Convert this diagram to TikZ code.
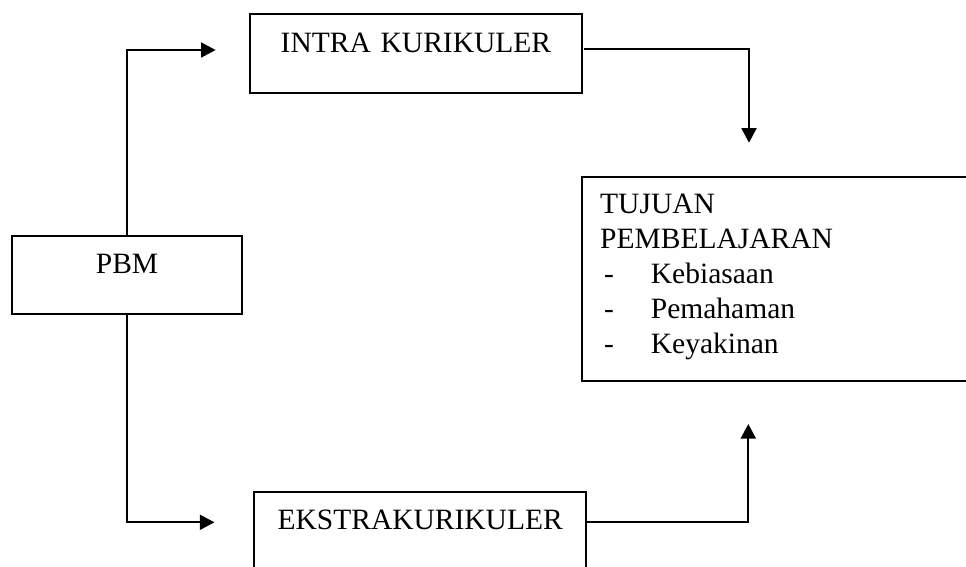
\documentclass[tikz,border=0pt]{standalone}
\usepackage{fontspec}
\setmainfont{Liberation Serif}
\usetikzlibrary{arrows.meta,calc}
\begin{document}
\begin{tikzpicture}[x=1pt,y=-1pt,
  every node/.style={font=\fontsize{29.5}{35}\selectfont},
  box/.style={draw, line width=1.8pt, inner sep=0pt, align=center},
  conn/.style={line width=1.8pt, -{Triangle[length=14.5pt,width=15pt]}}]
\useasboundingbox (0,0) rectangle (966,566);
% boxes
\node[box, anchor=north west, text width=332.6pt, text height=38.4pt, text depth=40.3pt]
  (intra) at (248.7,13.3) {INTRA KURIKULER};
\node[box, anchor=north west, text width=230.3pt, text height=38pt, text depth=40.3pt]
  (pbm) at (11,235) {PBM};
\node[box, anchor=north west, text width=332pt, text height=37.6pt, text depth=45pt]
  (ekstra) at (253.3,490.7) {EKSTRAKURIKULER};
\node[box, anchor=north west, minimum width=420pt, minimum height=204pt]
  (tujuan) at (580.7,176) {};
\node[anchor=base west, inner sep=0pt] (tujuantext) at (600,213.3)
  {\begin{tabular}[t]{@{}l@{}}
   TUJUAN\\
   PEMBELAJARAN\\
   \hspace*{4pt}\makebox[46.7pt][l]{-}Kebiasaan\\
   \hspace*{4pt}\makebox[46.7pt][l]{-}Pemahaman\\
   \hspace*{4pt}\makebox[46.7pt][l]{-}Keyakinan
   \end{tabular}};
% connector ends
\coordinate (a1) at (215.6,50);
\coordinate (a2) at (214.4,522.3);
\coordinate (s3) at (584,49.3);
\coordinate (e3) at (749,142.7);
\coordinate (e4) at (748.3,424);
% connectors
\draw[conn] (pbm.north) |- (a1);
\draw[conn] (pbm.south) |- (a2);
\draw[conn] (s3) -| (e3);
\draw[conn] (ekstra.east |- a2) -| (e4);
\end{tikzpicture}
\end{document}
